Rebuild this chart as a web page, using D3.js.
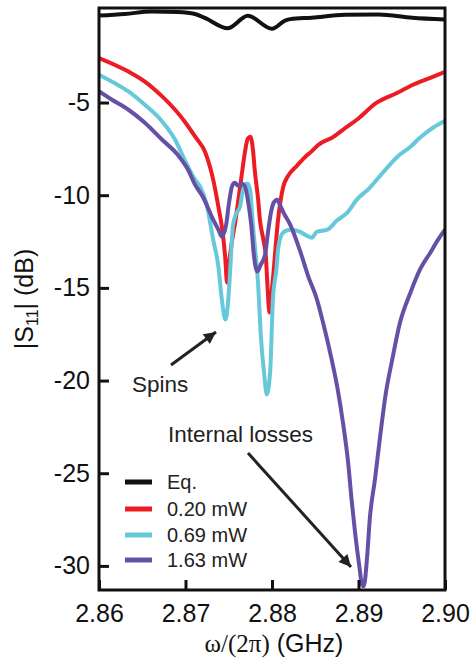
<!DOCTYPE html>
<html><head><meta charset="utf-8">
<script src="https://cdn.jsdelivr.net/npm/d3@7"></script>
<style>body{margin:0;background:#fff}svg{display:block}</style>
</head><body>
<svg id="chart" width="473" height="662"></svg>
<script>
// ---------- data ----------
const seriesNames = ["Eq.", "0.20 mW", "0.69 mW", "1.63 mW"];
const seriesColors = ["#111111", "#ed1c24", "#66c9d9", "#6650a6"];

const freqEq = [2.8600, 2.8630, 2.8661, 2.8691, 2.8711, 2.8723, 2.8749, 2.8772, 2.8800, 2.8815, 2.8821, 2.8846, 2.8884, 2.8923, 2.8962, 2.9000];
const dbEq   = [-0.31, -0.22, -0.09, -0.12, -0.22, -0.45, -0.99, -0.32, -1.02, -0.58, -0.50, -0.42, -0.27, -0.25, -0.42, -0.52];

const freqP020 = [2.8600, 2.8634, 2.8653, 2.8673, 2.8688, 2.8699, 2.8711, 2.8723, 2.8732, 2.8738, 2.8743, 2.8746, 2.8748, 2.8750, 2.8754, 2.8757, 2.8761, 2.8765, 2.8769, 2.8772, 2.8775, 2.8778, 2.8780, 2.8784, 2.8786, 2.8790, 2.8793, 2.8795, 2.8797, 2.8799, 2.8801, 2.8807, 2.8813, 2.8818, 2.8829, 2.8838, 2.8846, 2.8853, 2.8871, 2.8882, 2.8898, 2.8921, 2.8945, 2.8963, 2.8983, 2.9000];
const dbP020   = [-2.60, -3.33, -3.87, -4.67, -5.39, -6.02, -6.83, -7.71, -9.16, -10.62, -12.02, -13.40, -14.72, -13.80, -12.40, -11.60, -10.30, -8.90, -7.60, -6.95, -6.85, -7.55, -8.63, -10.24, -11.32, -12.40, -13.37, -15.09, -16.33, -15.50, -14.56, -11.32, -9.54, -9.00, -8.40, -7.95, -7.62, -7.30, -6.85, -6.47, -5.93, -5.01, -4.47, -4.04, -3.67, -3.34];

const freqP069 = [2.8600, 2.8618, 2.8634, 2.8653, 2.8673, 2.8688, 2.8699, 2.8711, 2.8717, 2.8725, 2.8732, 2.8738, 2.8742, 2.8746, 2.8749, 2.8751, 2.8755, 2.8758, 2.8763, 2.8766, 2.8770, 2.8772, 2.8775, 2.8777, 2.8780, 2.8784, 2.8787, 2.8791, 2.8794, 2.8798, 2.8801, 2.8805, 2.8807, 2.8810, 2.8814, 2.8821, 2.8832, 2.8840, 2.8846, 2.8852, 2.8864, 2.8875, 2.8887, 2.8898, 2.8913, 2.8928, 2.8945, 2.8960, 2.8971, 2.8986, 2.9000];
const dbP069   = [-3.50, -3.95, -4.40, -5.12, -6.02, -7.01, -8.09, -9.16, -9.54, -10.62, -12.40, -13.85, -15.63, -16.71, -15.90, -14.56, -11.60, -11.05, -10.62, -9.81, -9.38, -9.38, -9.81, -11.05, -12.67, -14.82, -17.52, -19.68, -20.75, -19.41, -15.63, -14.02, -12.94, -12.24, -11.97, -11.86, -11.97, -12.18, -12.29, -11.97, -11.86, -11.37, -10.94, -10.24, -9.60, -8.79, -7.92, -7.39, -6.90, -6.36, -5.98];

const freqP163 = [2.8600, 2.8615, 2.8634, 2.8653, 2.8673, 2.8691, 2.8703, 2.8711, 2.8720, 2.8732, 2.8738, 2.8742, 2.8747, 2.8750, 2.8754, 2.8757, 2.8761, 2.8765, 2.8769, 2.8772, 2.8776, 2.8779, 2.8783, 2.8787, 2.8792, 2.8795, 2.8799, 2.8802, 2.8806, 2.8809, 2.8814, 2.8821, 2.8832, 2.8842, 2.8852, 2.8859, 2.8869, 2.8876, 2.8882, 2.8888, 2.8892, 2.8896, 2.8901, 2.8904, 2.8906, 2.8910, 2.8913, 2.8919, 2.8925, 2.8931, 2.8939, 2.8948, 2.8960, 2.8971, 2.8983, 2.8992, 2.9000];
const dbP163   = [-4.40, -4.85, -5.39, -6.09, -7.01, -7.82, -8.63, -9.43, -10.08, -11.32, -11.86, -12.24, -11.59, -10.51, -9.49, -9.33, -9.49, -9.38, -9.54, -10.24, -11.59, -13.21, -14.12, -13.75, -13.21, -12.13, -10.89, -10.40, -10.24, -10.51, -11.00, -11.59, -12.94, -14.39, -15.63, -16.87, -18.87, -20.49, -22.26, -24.42, -26.42, -28.19, -30.03, -31.00, -31.10, -29.49, -27.49, -25.34, -23.02, -20.86, -18.87, -16.87, -15.26, -14.02, -13.10, -12.40, -11.86];

const xTicks = [2.86, 2.87, 2.88, 2.89, 2.90];
const yTicks = [-5, -10, -15, -20, -25, -30];

// ---------- chart ----------
const svg = d3.select("#chart");
const pL = 99, pR = 445, pT = 8, pB = 590;
const x = d3.scaleLinear().domain([2.86, 2.90]).range([pL, pR]);
const y = d3.scaleLinear().domain([-31.3, 0.1]).range([pB, pT]);

const defs = svg.append("defs");
defs.append("clipPath").attr("id", "plotClip")
  .append("rect").attr("x", pL).attr("y", pT).attr("width", pR - pL).attr("height", pB - pT);

const series = [
  [freqEq, dbEq], [freqP020, dbP020], [freqP069, dbP069], [freqP163, dbP163]
];
const line = d3.line().x(d => x(d[0])).y(d => y(d[1])).curve(d3.curveMonotoneX);
const g = svg.append("g").attr("clip-path", "url(#plotClip)");
series.forEach((s, i) => {
  const pts = s[0].map((f, k) => [f, s[1][k]]);
  g.append("path").datum(pts).attr("d", line)
    .attr("fill", "none").attr("stroke", seriesColors[i])
    .attr("stroke-width", 4).attr("stroke-linejoin", "round").attr("stroke-linecap", "round");
});

// frame
svg.append("rect").attr("x", pL).attr("y", pT).attr("width", pR - pL).attr("height", pB - pT)
  .attr("fill", "none").attr("stroke", "#111").attr("stroke-width", 3);

// axes
const font = "'Liberation Sans', Arial, Helvetica, sans-serif";
const xAxis = d3.axisBottom(x).tickValues(xTicks).tickSizeInner(-10).tickSizeOuter(0).tickPadding(22).tickFormat(d3.format(".2f"));
const xg = svg.append("g").attr("transform", `translate(0,${pB})`).call(xAxis);
xg.select(".domain").remove();
xg.selectAll("line").attr("stroke", "#111").attr("stroke-width", 3);
xg.selectAll("text").attr("font-family", font).attr("font-size", 25).attr("fill", "#111").attr("dy", "0.71em").attr("y", 14);

const yAxis = d3.axisLeft(y).tickValues(yTicks).tickSizeInner(-10).tickSizeOuter(0).tickPadding(9).tickFormat(d => "-" + Math.abs(d));
const yg = svg.append("g").attr("transform", `translate(${pL},0)`).call(yAxis);
yg.select(".domain").remove();
yg.selectAll("line").attr("stroke", "#111").attr("stroke-width", 3);
yg.selectAll("text").attr("font-family", font).attr("font-size", 25).attr("fill", "#111");

// axis titles
const xt = svg.append("text").attr("x", 274).attr("y", 652).attr("text-anchor", "middle")
  .attr("font-size", 25).attr("fill", "#111");
xt.append("tspan").attr("font-family", "'Liberation Serif', 'Times New Roman', serif").text("ω/(2π)");
xt.append("tspan").attr("font-family", font).text(" (GHz)");

const yt = svg.append("text").attr("transform", "translate(33,299) rotate(-90)").attr("text-anchor", "middle")
  .attr("font-family", font).attr("font-size", 25).attr("fill", "#111");
yt.append("tspan").text("|S");
yt.append("tspan").attr("font-size", 16).attr("dy", 5).text("11");
yt.append("tspan").attr("dy", -5).text("| (dB)");

// legend
const legY = [482, 509, 535, 560];
seriesNames.forEach((name, i) => {
  svg.append("line").attr("x1", 125).attr("x2", 152).attr("y1", legY[i]).attr("y2", legY[i])
    .attr("stroke", seriesColors[i]).attr("stroke-width", 5);
  svg.append("text").attr("x", 167).attr("y", legY[i] + 7).attr("font-family", font)
    .attr("font-size", 20).attr("fill", "#222").text(name);
});

// annotations
defs.append("marker").attr("id", "arrow").attr("viewBox", "0 0 10 10").attr("refX", 10).attr("refY", 5)
  .attr("markerWidth", 5).attr("markerHeight", 4).attr("markerUnits", "strokeWidth").attr("orient", "auto")
  .append("path").attr("d", "M0,0 L10,5 L0,10 z").attr("fill", "#222");

svg.append("text").attr("x", 132).attr("y", 392).attr("font-family", font).attr("font-size", 22.5).attr("fill", "#222").text("Spins");
svg.append("line").attr("x1", 171).attr("y1", 365).attr("x2", 216).attr("y2", 332)
  .attr("stroke", "#222").attr("stroke-width", 3).attr("marker-end", "url(#arrow)");

svg.append("text").attr("x", 168).attr("y", 442).attr("font-family", font).attr("font-size", 22.5).attr("fill", "#222").text("Internal losses");
svg.append("line").attr("x1", 248).attr("y1", 453).attr("x2", 351).attr("y2", 567)
  .attr("stroke", "#222").attr("stroke-width", 3).attr("marker-end", "url(#arrow)");
</script>
</body></html>
